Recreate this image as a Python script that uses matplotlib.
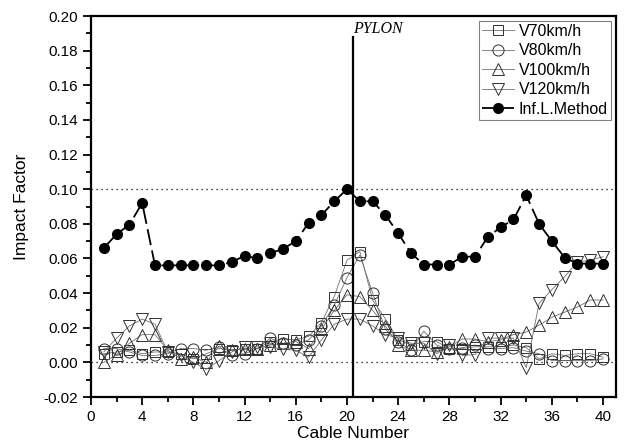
import matplotlib
matplotlib.use("Agg")
import matplotlib.pyplot as plt
from matplotlib.ticker import MultipleLocator, FormatStrFormatter

cables = list(range(1, 41))

v70 = [0.005, 0.006, 0.007, 0.005, 0.006, 0.006, 0.005, 0.002, 0.005, 0.008,
       0.007, 0.008, 0.008, 0.012, 0.0135, 0.013, 0.015, 0.023, 0.038, 0.059,
       0.064, 0.036, 0.025, 0.013, 0.010, 0.012, 0.012, 0.008, 0.008, 0.009,
       0.009, 0.009, 0.010, 0.0085, 0.002, 0.005, 0.004, 0.005, 0.005, 0.003]
v80 = [0.008, 0.008, 0.006, 0.004, 0.004, 0.005, 0.008, 0.008, 0.007, 0.009,
       0.004, 0.005, 0.008, 0.014, 0.011, 0.010, 0.013, 0.021, 0.033, 0.049,
       0.062, 0.040, 0.019, 0.012, 0.007, 0.018, 0.010, 0.0075, 0.0085, 0.010,
       0.008, 0.008, 0.0085, 0.0065, 0.005, 0.001, 0.001, 0.001, 0.001, 0.002]
v100 = [0.000, 0.0045, 0.011, 0.016, 0.016, 0.007, 0.002, 0.003, 0.000, 0.0095,
        0.007, 0.008, 0.008, 0.010, 0.011, 0.012, 0.008, 0.019, 0.030, 0.039,
        0.038, 0.030, 0.021, 0.010, 0.007, 0.007, 0.006, 0.009, 0.0135, 0.0135,
        0.012, 0.013, 0.016, 0.0175, 0.0215, 0.026, 0.029, 0.032, 0.036, 0.036]
v120 = [0.006, 0.014, 0.021, 0.025, 0.022, 0.006, 0.004, 0.000, -0.004, 0.001,
        0.006, 0.009, 0.009, 0.009, 0.0075, 0.007, 0.003, 0.013, 0.022, 0.025,
        0.025, 0.021, 0.016, 0.014, 0.011, 0.011, 0.005, 0.010, 0.004, 0.0045,
        0.014, 0.014, 0.014, -0.003, 0.034, 0.042, 0.0495, 0.058, 0.059, 0.061]
infl = [0.066, 0.074, 0.0795, 0.092, 0.056, 0.056, 0.056, 0.056, 0.056, 0.056,
        0.058, 0.0615, 0.060, 0.063, 0.0655, 0.070, 0.0805, 0.085, 0.093, 0.100,
        0.093, 0.093, 0.085, 0.0745, 0.063, 0.0565, 0.0565, 0.0565, 0.061, 0.061,
        0.0725, 0.078, 0.0825, 0.0965, 0.080, 0.070, 0.0605, 0.057, 0.057, 0.057]

labels = ["V70km/h", "V80km/h", "V100km/h", "V120km/h", "Inf.L.Method"]
pylon_x = 20.5

plt.rcParams['font.family'] = ['Liberation Sans', 'DejaVu Sans']

fig = plt.figure(figsize=(6.24, 4.42), dpi=100)
ax = fig.add_axes([0.1458, 0.1018, 0.8412, 0.862])

ax.axhline(0.10, color='black', linestyle=(0, (1, 3)), linewidth=0.9, zorder=1)
ax.axhline(0.00, color='black', linestyle=(0, (1, 3)), linewidth=0.9, zorder=1)

gray = '#707070'
edge = '#303030'
common = dict(color=gray, linewidth=0.6, markerfacecolor='none',
              markeredgecolor=edge, markeredgewidth=0.7, markersize=8)
ax.plot(cables, v70, marker='s', label=labels[0], **dict(common, markersize=7))
ax.plot(cables, v80, marker='o', label=labels[1], **common)
ax.plot(cables, v100, marker='^', label=labels[2], **dict(common, markersize=9))
ax.plot(cables, v120, marker='v', label=labels[3], **dict(common, markersize=9))
ax.plot(cables, infl, marker='o', color='black', linewidth=1.3,
        linestyle=(0, (9, 3)), markersize=7, markerfacecolor='black',
        markeredgecolor='black', label=labels[4], zorder=5)

ax.plot([pylon_x, pylon_x], [-0.02, 0.188], color='black', linewidth=1.6, zorder=6)
ax.text(pylon_x, 0.1925, "PYLON", family=['Liberation Serif'], style='italic',
        fontsize=11.5, ha='left', va='center')

ax.set_xlim(0, 41)
ax.set_ylim(-0.02, 0.20)
ax.xaxis.set_major_locator(MultipleLocator(4))
ax.xaxis.set_minor_locator(MultipleLocator(2))
ax.yaxis.set_major_locator(MultipleLocator(0.02))
ax.yaxis.set_minor_locator(MultipleLocator(0.01))
ax.yaxis.set_major_formatter(FormatStrFormatter('%.2f'))
ax.tick_params(which='major', direction='out', length=6, width=1.3, labelsize=11,
               top=False, right=False)
ax.tick_params(which='minor', direction='out', length=3.5, width=1.3,
               top=False, right=False)
for s in ax.spines.values():
    s.set_linewidth(1.6)

ax.set_xlabel("Cable Number", fontsize=12.5, labelpad=1)
ax.set_ylabel("Impact Factor", fontsize=12.5, labelpad=10)

leg = ax.legend(loc='upper right', fontsize=11.5, frameon=True, fancybox=False,
                edgecolor='#606060', handlelength=2.0, handletextpad=0.3,
                borderpad=0.2, labelspacing=0.28, borderaxespad=0.3)
leg.get_frame().set_linewidth(0.8)

fig.savefig("out.png", dpi=100)
